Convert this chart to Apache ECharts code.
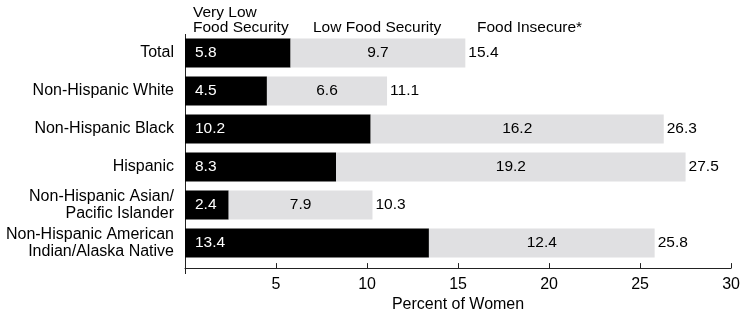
<!DOCTYPE html>
<html>
<head>
<meta charset="utf-8">
<script src="https://cdn.jsdelivr.net/npm/echarts@6/dist/echarts.min.js"></script>
<style>
  html, body { margin: 0; padding: 0; background: #fff; }
  #chart { width: 743px; height: 318px; }
</style>
</head>
<body>
<div id="chart"></div>
<script>
const FONT = "'Liberation Sans', Arial, sans-serif";

const categories = [
  "Total",
  "Non-Hispanic White",
  "Non-Hispanic Black",
  "Hispanic",
  "Non-Hispanic Asian/\nPacific Islander",
  "Non-Hispanic American\nIndian/Alaska Native",
];
const veryLow = [5.8, 4.5, 10.2, 8.3, 2.4, 13.4];
const low = [9.7, 6.6, 16.2, 19.2, 7.9, 12.4];
const insecure = [15.4, 11.1, 26.3, 27.5, 10.3, 25.8];
const xTicks = [0, 5, 10, 15, 20, 25, 30];

// gray segment spans from the end of the black bar to the food insecure total
const graySpan = insecure.map((v, i) => +(v - veryLow[i]).toFixed(1));

const chart = echarts.init(document.getElementById("chart"));

const labelText = { color: "#000", fontSize: 16, fontFamily: FONT };
const barText = { color: "#000", fontSize: 15.5, fontFamily: FONT };

chart.setOption({
  animation: false,
  backgroundColor: "#fff",
  grid: { left: 185, right: 10, top: 34, height: 234 },
  xAxis: {
    type: "value",
    min: xTicks[0],
    max: xTicks[xTicks.length - 1],
    interval: 5,
    offset: 6,
    name: "Percent of Women",
    nameLocation: "middle",
    nameGap: 25,
    nameTextStyle: labelText,
    axisLine: { show: true, lineStyle: { color: "#222", width: 1 } },
    axisTick: { show: true, inside: true, length: 5, lineStyle: { color: "#222" } },
    axisLabel: {
      ...labelText,
      margin: 8,
      formatter: (v) => (v === 0 ? "" : String(v)),
    },
    splitLine: { show: false },
  },
  yAxis: {
    type: "category",
    inverse: true,
    data: categories,
    axisLine: { show: false },
    axisTick: { show: false },
    axisLabel: { ...labelText, margin: 11, lineHeight: 17 },
  },
  graphic: [
    {
      type: "line",
      shape: { x1: 185.5, y1: 34, x2: 185.5, y2: 274 },
      style: { stroke: "#222", lineWidth: 1 },
      silent: true,
    },
    { type: "text", x: 193, y: 13, style: { text: "Very Low", fill: "#000", font: "15.5px " + FONT, verticalAlign: "middle" } },
    { type: "text", x: 193, y: 28, style: { text: "Food Security", fill: "#000", font: "15.5px " + FONT, verticalAlign: "middle" } },
    { type: "text", x: 313, y: 28, style: { text: "Low Food Security", fill: "#000", font: "15.5px " + FONT, verticalAlign: "middle" } },
    { type: "text", x: 477, y: 28, style: { text: "Food Insecure*", fill: "#000", font: "15.5px " + FONT, verticalAlign: "middle" } },
  ],
  series: [
    {
      name: "Very Low Food Security",
      type: "bar",
      stack: "fs",
      barWidth: 29,
      barGap: "-100%",
      data: veryLow,
      itemStyle: { color: "#000" },
      label: {
        show: true,
        position: "insideLeft",
        distance: 10,
        ...barText,
        color: "#fff",
        formatter: (p) => p.value.toFixed(1),
      },
      silent: true,
    },
    {
      name: "Low Food Security",
      type: "bar",
      stack: "fs",
      barWidth: 29,
      barGap: "-100%",
      data: graySpan,
      itemStyle: { color: "#e0e0e2" },
      label: {
        show: true,
        position: "inside",
        ...barText,
        formatter: (p) => low[p.dataIndex].toFixed(1),
      },
      silent: true,
    },
    {
      name: "Food Insecure*",
      type: "bar",
      barWidth: 29,
      barGap: "-100%",
      data: insecure,
      itemStyle: { color: "rgba(0,0,0,0)" },
      label: {
        show: true,
        position: "right",
        distance: 3,
        ...barText,
        formatter: (p) => p.value.toFixed(1),
      },
      z: 1,
      silent: true,
    },
  ],
});
</script>
</body>
</html>
